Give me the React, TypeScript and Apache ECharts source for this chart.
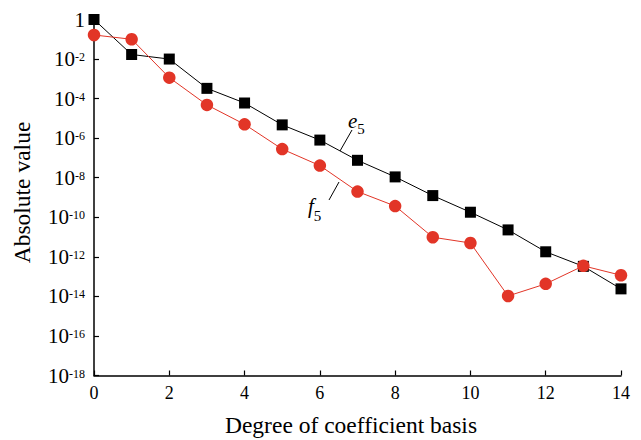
import React, { useEffect, useRef } from "react";
import * as echarts from "echarts";

const degrees = [0, 1, 2, 3, 4, 5, 6, 7, 8, 9, 10, 11, 12, 13, 14];
const e5Values = [1.0, 1.7e-2, 1.0e-2, 3.3e-4, 6.0e-5, 4.7e-6, 8.0e-7, 7.6e-8, 1.1e-8, 1.25e-9, 1.8e-10, 2.3e-11, 1.8e-12, 3.3e-13, 2.4e-14];
const f5Values = [1.65e-1, 1.0e-1, 1.15e-3, 4.8e-5, 5.0e-6, 2.8e-7, 4.1e-8, 2.0e-9, 3.7e-10, 9.8e-12, 5.0e-12, 1.05e-14, 4.3e-14, 3.5e-13, 1.17e-13];
const xTicks = [0, 2, 4, 6, 8, 10, 12, 14];

const FONT = "Liberation Serif";

export default function App() {
  const ref = useRef<HTMLDivElement>(null);
  useEffect(() => {
    if (!ref.current) return;
    const chart = echarts.init(ref.current, null, { renderer: "svg" });
    chart.setOption({
      animation: false,
      backgroundColor: "#fff",
      textStyle: { fontFamily: FONT },
      grid: { left: 94, right: 20, top: 19.5, bottom: 64.5, containLabel: false, outerBoundsMode: "none" },
      xAxis: {
        type: "value",
        min: 0,
        max: 14,
        interval: 2,
        name: "Degree of coefficient basis",
        nameLocation: "middle",
        nameGap: 37,
        nameTextStyle: { fontFamily: FONT, fontSize: 23.5, color: "#000", padding: [0, 13, 0, 0] },
        axisLine: { show: true, lineStyle: { color: "#000", width: 1.5 } },
        axisTick: { show: true, inside: true, length: 5, lineStyle: { color: "#000", width: 1.2 } },
        axisLabel: {
          fontFamily: FONT,
          fontSize: 18,
          color: "#000",
          margin: 8,
          formatter: (v: number) => (xTicks.includes(v) ? String(v) : ""),
        },
        splitLine: { show: false },
      },
      yAxis: {
        type: "log",
        logBase: 10,
        min: 1e-18,
        max: 1,
        interval: 2,
        name: "Absolute value",
        nameLocation: "middle",
        nameGap: 60,
        nameTextStyle: { fontFamily: FONT, fontSize: 23.5, color: "#000", padding: [0, 0, 0, 10] },
        axisLine: { show: true, lineStyle: { color: "#000", width: 1.5 } },
        axisTick: { show: true, inside: true, length: 5, lineStyle: { color: "#000", width: 1.2 } },
        axisLabel: {
          margin: 9,
          fontFamily: FONT,
          formatter: (v: number) => {
            const p = Math.round(Math.log10(v));
            if (p === 0) return "{o|1}";
            return "{b|10}{s|" + p + "}";
          },
          rich: {
            o: { fontFamily: FONT, fontSize: 21, color: "#000", lineHeight: 16 },
            b: { fontFamily: FONT, fontSize: 21, color: "#000", verticalAlign: "middle", lineHeight: 16 },
            s: { fontFamily: FONT, fontSize: 12, color: "#000", verticalAlign: "top", lineHeight: 16 },
          },
        },
        splitLine: { show: false },
        minorTick: { show: false },
      },
      series: [
        {
          name: "e5",
          type: "line",
          data: degrees.map((d, i) => [d, e5Values[i]]),
          symbol: "rect",
          symbolSize: 11,
          itemStyle: { color: "#000" },
          lineStyle: { color: "#000", width: 1 },
          z: 2,
        },
        {
          name: "f5",
          type: "line",
          data: degrees.map((d, i) => [d, f5Values[i]]),
          symbol: "circle",
          symbolSize: 12.5,
          itemStyle: { color: "#e23527" },
          lineStyle: { color: "#e23527", width: 1 },
          z: 3,
        },
      ],
      graphic: [
        { type: "line", shape: { x1: 340, y1: 151, x2: 352, y2: 130 }, style: { stroke: "#000", lineWidth: 1 } },
        { type: "line", shape: { x1: 339, y1: 182, x2: 329, y2: 200 }, style: { stroke: "#000", lineWidth: 1 } },
        {
          type: "text",
          x: 348,
          y: 110,
          style: {
            text: "{i|e}{s|5}",
            rich: {
              i: { fontFamily: FONT, fontStyle: "italic", fontSize: 21, fill: "#000", verticalAlign: "top", lineHeight: 22 },
              s: { fontFamily: FONT, fontSize: 15, fill: "#000", verticalAlign: "bottom", lineHeight: 26 },
            },
          },
        },
        {
          type: "text",
          x: 308,
          y: 195,
          style: {
            text: "{i|f}{s|5}",
            rich: {
              i: { fontFamily: FONT, fontStyle: "italic", fontSize: 21, fill: "#000", verticalAlign: "top", lineHeight: 22 },
              s: { fontFamily: FONT, fontSize: 15, fill: "#000", verticalAlign: "bottom", lineHeight: 28 },
            },
          },
        },
      ],
    });
    return () => chart.dispose();
  }, []);
  return <div ref={ref} style={{ width: 641, height: 440, position: "absolute", left: 0, top: 0 }} />;
}
